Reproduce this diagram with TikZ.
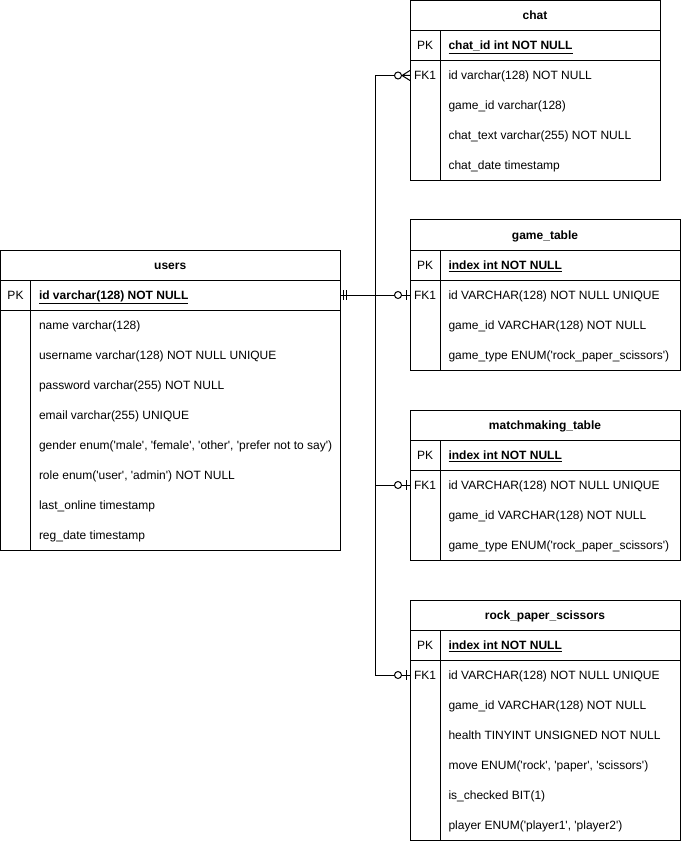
\documentclass[tikz,border=0pt]{standalone}
\usepackage{fontspec}
\setmainfont{Liberation Sans}[Ligatures=TeXOff]

% One entity table: #1 name, #2 left, #3 top, #4 width, #5 number of plain rows,
% #6 title, #7 primary key field, #8 key label of first plain row, #9 plain rows
\newcommand{\erdtable}[9]{%
  \draw (#2,#3) rectangle ++(#4,60+30*#5);
  \draw (#2,#3+30) -- ++(#4,0) (#2,#3+60) -- ++(#4,0);
  \draw (#2+30,#3+30) -- ++(0,30+30*#5);
  \node[tbltitle] (#1) at (#2+#4/2,#3+19.5) {#6};
  \node[keytext] (#1-pklabel) at (#2+15,#3+49.5) {PK};
  \node[fieldtext,font=\tblfont\bfseries] (#1-pk) at (#2+38,#3+49.5) {\underline{#7}};
  \node[keytext] (#1-fklabel) at (#2+15,#3+79.5) {#8};
  \foreach \fld [count=\i] in {#9} {
    \node[fieldtext] (#1-f\i) at (#2+38,#3+49.5+30*\i) {\fld};
  }
  \coordinate (#1-pkeast) at (#2+#4,#3+45);
  \coordinate (#1-fk) at (#2,#3+75);
}
\newcommand{\tblfont}{\fontsize{12}{14}\selectfont}

% Relationship end markers
\newcommand{\erdMandOne}[1]{%
  \draw ([xshift=3pt,yshift=5pt]#1) -- ++(0,10);
  \draw ([xshift=6pt,yshift=5pt]#1) -- ++(0,10);}
\newcommand{\erdZeroOne}[1]{%
  \draw ([xshift=-4pt,yshift=5pt]#1) -- ++(0,10);
  \draw[fill=white] ([xshift=-12pt]#1) circle[radius=3.5pt];}
\newcommand{\erdZeroMany}[1]{%
  \draw ([xshift=-8pt]#1) -- ([yshift=5pt]#1)
        ([xshift=-8pt]#1) -- (#1)
        ([xshift=-8pt]#1) -- ([yshift=-5pt]#1);
  \draw[fill=white] ([xshift=-12pt]#1) circle[radius=3.5pt];}

\begin{document}
\begin{tikzpicture}[x=1pt,y=-1pt,line width=1pt,
  every node/.style={inner sep=0pt,font=\tblfont},
  tbltitle/.style={anchor=base,font=\tblfont\bfseries},
  keytext/.style={anchor=base},
  fieldtext/.style={anchor=base west}]
\useasboundingbox (0,0) rectangle (681,842);

\erdtable{users}{0.5}{250}{339.5}{8}{users}{id varchar(128) NOT NULL}{}{
  name varchar(128),
  username varchar(128) NOT NULL UNIQUE,
  password varchar(255) NOT NULL,
  email varchar(255) UNIQUE,
  {gender enum('male', 'female', 'other', 'prefer not to say')},
  {role enum('user', 'admin') NOT NULL},
  last\_online timestamp,
  reg\_date timestamp}

\erdtable{chat}{410}{0.5}{250}{4}{chat}{chat\_id int NOT NULL}{FK1}{
  id varchar(128) NOT NULL,
  game\_id varchar(128),
  chat\_text varchar(255) NOT NULL,
  chat\_date timestamp}

\erdtable{game}{410}{220}{270}{3}{game\_table}{index int NOT NULL}{FK1}{
  id VARCHAR(128) NOT NULL UNIQUE,
  game\_id VARCHAR(128) NOT NULL,
  game\_type ENUM('rock\_paper\_scissors')}

\erdtable{match}{410}{410}{270}{3}{matchmaking\_table}{index int NOT NULL}{FK1}{
  id VARCHAR(128) NOT NULL UNIQUE,
  game\_id VARCHAR(128) NOT NULL,
  game\_type ENUM('rock\_paper\_scissors')}

\erdtable{rps}{410}{600}{270}{6}{rock\_paper\_scissors}{index int NOT NULL}{FK1}{
  id VARCHAR(128) NOT NULL UNIQUE,
  game\_id VARCHAR(128) NOT NULL,
  health TINYINT UNSIGNED NOT NULL,
  {move ENUM('rock', 'paper', 'scissors')},
  is\_checked BIT(1),
  {player ENUM('player1', 'player2')}}

% Relationships from users.id
\draw (users-pkeast) -- (game-fk);
\draw (users-pkeast) -- ++(35,0) |- (chat-fk);
\draw (users-pkeast) -- ++(35,0) |- (match-fk);
\draw (users-pkeast) -- ++(35,0) |- (rps-fk);

\erdMandOne{users-pkeast}
\erdZeroMany{chat-fk}
\erdZeroOne{game-fk}
\erdZeroOne{match-fk}
\erdZeroOne{rps-fk}
\end{tikzpicture}
\end{document}
